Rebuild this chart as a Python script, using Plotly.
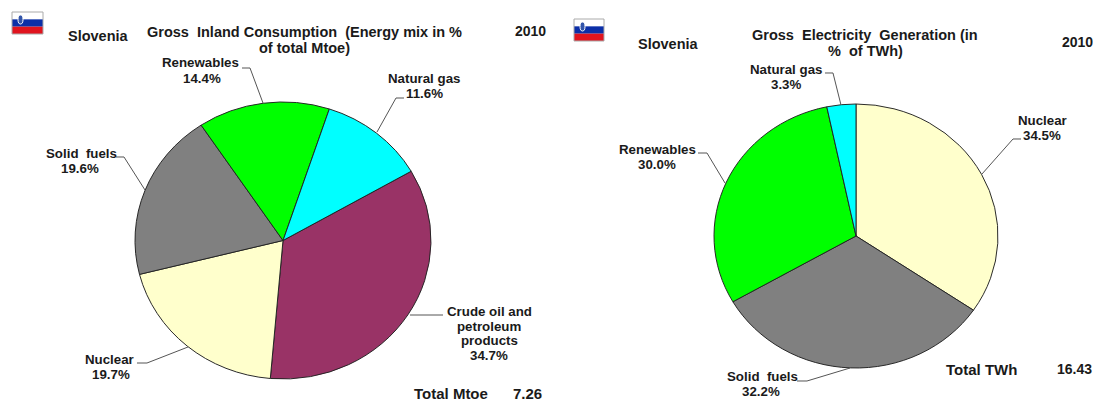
import plotly.graph_objects as go

W, H = 1093, 401
NB = "\u00a0"

# --- data ---
mix_labels = ["Crude oil and petroleum products", "Nuclear", "Solid fuels", "Renewables", "Natural gas"]
mix_values = [34.7, 19.7, 19.6, 14.4, 11.6]
mix_colors = ["#993366", "#FFFFCC", "#808080", "#00FF00", "#00FFFF"]

gen_labels = ["Nuclear", "Solid fuels", "Renewables", "Natural gas"]
gen_values = [34.5, 32.2, 30.0, 3.3]
gen_colors = ["#FFFFCC", "#808080", "#00FF00", "#00FFFF"]

country = "Slovenia"
year = "2010"
total_mtoe = "7.26"
total_twh = "16.43"


def fx(x):
    return x / W


def fy(y):
    return 1 - y / H


def dom(cx, cy, d):
    return dict(x=[fx(cx - d / 2), fx(cx + d / 2)], y=[fy(cy + d / 2), fy(cy - d / 2)])


fig = go.Figure()
fig.add_trace(go.Pie(labels=mix_labels, values=mix_values, sort=False, direction="clockwise",
                     rotation=60, textinfo="none", showlegend=False,
                     marker=dict(colors=mix_colors, line=dict(color="#222222", width=1)),
                     domain=dom(283, 240.5, 296)))
fig.add_trace(go.Pie(labels=gen_labels, values=gen_values, sort=False, direction="clockwise",
                     rotation=0, textinfo="none", showlegend=False,
                     marker=dict(colors=gen_colors, line=dict(color="#222222", width=1)),
                     domain=dom(856, 236, 284)))

LABEL, TITLE, TOTAL, YEAR = 13.3, 14.5, 15, 14
texts = [
    (country, 98, 36, TITLE), (f"Gross{NB}{NB}Inland{NB}Consumption{NB}{NB}(Energy{NB}mix{NB}in{NB}%", 304, 32, TITLE),
    ("of total Mtoe)", 304, 48, TITLE), (year, 530, 31, YEAR),
    ("Renewables", 200, 63, LABEL), ("14.4%", 202, 78, LABEL),
    ("Natural gas", 424, 78, LABEL), ("11.6%", 424, 93, LABEL),
    (f"Solid{NB}{NB}fuels", 81, 153, LABEL), ("19.6%", 80, 168, LABEL),
    ("Crude oil and", 489, 311, LABEL), ("petroleum", 489, 326, LABEL), ("products", 489, 340, LABEL), ("34.7%", 489, 355, LABEL),
    ("Nuclear", 110, 359, LABEL), ("19.7%", 111, 374, LABEL),
    ("Total Mtoe", 451, 393, TOTAL), (total_mtoe, 527, 393, TOTAL),
    (country, 668, 44, TITLE), (f"Gross{NB}{NB}Electricity{NB}{NB}Generation{NB}(in", 865, 35, TITLE),
    (f"%{NB}{NB}of TWh)", 865, 51, TITLE), (year, 1077, 42, YEAR),
    ("Natural gas", 786, 69, LABEL), ("3.3%", 786, 84, LABEL),
    ("Renewables", 657, 149, LABEL), ("30.0%", 657, 164, LABEL),
    ("Nuclear", 1042, 120, LABEL), ("34.5%", 1042, 135, LABEL),
    (f"Solid{NB}{NB}fuels", 762, 376, LABEL), ("32.2%", 761, 391, LABEL),
    ("Total TWh", 981, 369, TOTAL), (total_twh, 1074, 369, YEAR),
]
annotations = [dict(text=f"<b>{t}</b>", x=fx(x), y=fy(y), xref="paper", yref="paper", xanchor="center",
                    yanchor="middle", showarrow=False,
                    font=dict(family="Liberation Sans", size=s, color="#1a1a1a"))
               for t, x, y, s in texts]

leaders = [
    [(242, 68), (250, 68), (263, 103)],
    [(404, 98), (396, 98), (377, 132)],
    [(116, 157), (124, 157), (145, 190)],
    [(137, 363), (147, 363), (188, 347)],
    [(443, 315), (410, 315)],
    [(825, 73), (833, 73), (841, 105)],
    [(698, 153), (707, 153), (725, 183)],
    [(797, 381), (807, 381), (850, 368)],
    [(1021, 139), (1013, 139), (982, 174)],
]
shapes = []
for pts in leaders:
    path = "M " + " L ".join(f"{fx(x):.5f},{fy(y):.5f}" for x, y in pts)
    shapes.append(dict(type="path", path=path, xref="paper", yref="paper",
                       line=dict(color="#555555", width=1)))

for x0, y0, x1, y1 in [(12, 12, 43, 34), (574, 19, 604, 41)]:
    h = (y1 - y0) / 3
    for i, c in enumerate(["#FFFFFF", "#0B2FA8", "#E0141E"]):
        shapes.append(dict(type="rect", xref="paper", yref="paper", x0=fx(x0), x1=fx(x1),
                           y0=fy(y0 + i * h), y1=fy(y0 + (i + 1) * h), fillcolor=c,
                           line=dict(width=0)))
    shapes.append(dict(type="rect", xref="paper", yref="paper", x0=fx(x0), x1=fx(x1),
                       y0=fy(y0), y1=fy(y1), line=dict(color="#aaaaaa", width=1)))
    shapes.append(dict(type="circle", xref="paper", yref="paper", x0=fx(x0 + 6), x1=fx(x0 + 11),
                       y0=fy(y0 + 3), y1=fy(y0 + 12), fillcolor="#3355AA",
                       line=dict(color="#ffffff", width=1)))

fig.update_layout(width=W, height=H, margin=dict(l=0, r=0, t=0, b=0), paper_bgcolor="white",
                  plot_bgcolor="white", showlegend=False, annotations=annotations, shapes=shapes)

# remove the page margin; the reference pies are slightly squashed vertically
post = """
document.body.style.margin = '0';
var traces = document.querySelectorAll('.pielayer g.trace');
var cfg = [[240.5, 277/296], [236, 264/284]];
traces.forEach(function(t, i) {
  var c = cfg[i];
  t.setAttribute('transform', 'translate(0,' + c[0] + ') scale(1,' + c[1] + ') translate(0,' + (-c[0]) + ')');
});
"""
fig.write_html("out.html", post_script=post, config=dict(displayModeBar=False))
